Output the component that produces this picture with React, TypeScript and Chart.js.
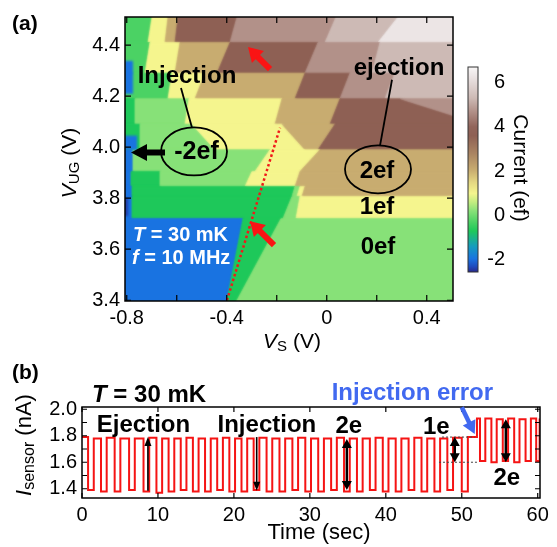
import React, { useEffect, useRef } from 'react';
import { Chart, registerables } from 'chart.js';
Chart.register(...registerables);

const FONT = '"Liberation Sans", Arial, Helvetica, sans-serif';
const font = (size: number, bold = false, italic = false) =>
  `${italic ? 'italic ' : ''}${bold ? 'bold ' : ''}${size}px ${FONT}`;

// ================= Panel (a) data =================
const aXTicks = [-0.8, -0.4, 0, 0.4];
const aXTickLabels = ['-0.8', '-0.4', '0', '0.4'];
const aXTickMarks = [-0.8, -0.6, -0.4, -0.2, 0, 0.2, 0.4];
const aYTicks = [3.4, 3.6, 3.8, 4.0, 4.2, 4.4];
const aYTickLabels = ['3.4', '3.6', '3.8', '4.0', '4.2', '4.4'];
const cbTicks = [-2, 0, 2, 4, 6];
const cbTickLabels = ['-2', '0', '2', '4', '6'];

// Current plateaus (ef): horizontal V_UG bands (top -> bottom); in each band the
// current level changes at slanted V_S boundaries (value at band top / band bottom).
const bandEdges = [4.51, 4.41, 4.29, 4.19, 4.09, 3.99, 3.905, 3.846, 3.807, 3.72, 3.4];
const bandLevels = [
  [-0.3, 1.0, 2.05, 3.6, 4.7, 5.3, 6.3],
  [-0.3, 1.0, 2.05, 3.6, 4.7, 5.3],
  [-0.3, 1.0, 2.05, 3.6, 4.7, 5.3],
  [-0.7, 0.2, 1.0, 2.05, 3.6, 4.7],
  [-0.7, 0.2, 1.0, 2.05, 3.6],
  [-1.95, 0.2, 1.0, 2.05],
  [-1.95, -0.7, 0.2, 1.0, 2.05],
  [-1.95, -0.7, 0.2, 1.0, 2.05],
  [-1.95, -0.7, 0.2, 1.0],
  [-1.95, -0.7, 0.2],
];
const bandBreaksTop = [
  [-0.699, -0.635, -0.595, -0.359, 0.037, 0.285],
  [-0.707, -0.587, -0.387, -0.035, 0.213],
  [-0.619, -0.487, -0.087, 0.093, 0.273],
  [-0.767, -0.551, -0.179, 0.053, 0.293],
  [-0.747, -0.539, -0.179, 0.033],
  [-0.775, -0.227, -0.027],
  [-0.783, -0.667, -0.299, -0.107],
  [-0.779, -0.127, -0.107, -0.087],
  [-0.779, -0.139, -0.107],
  [-0.335, -0.183],
];
const bandBreaksBottom = [
  [-0.715, -0.647, -0.607, -0.387, -0.007, 0.205],
  [-0.727, -0.607, -0.439, -0.087, 0.181],
  [-0.635, -0.527, -0.127, 0.053, 0.233],
  [-0.767, -0.567, -0.207, 0.013, 0.613],
  [-0.747, -0.447, -0.087, -0.035],
  [-0.775, -0.287, -0.107],
  [-0.783, -0.667, -0.327, -0.127],
  [-0.779, -0.139, -0.119, -0.099],
  [-0.779, -0.175, -0.123],
  [-0.399, -0.359],
];
// small extra patches near the left edge
const patchVsMin = [-0.81, -0.81, -0.81];
const patchVsMax = [-0.775, -0.759, -0.795];
const patchVugMin = [4.209, 3.99, 3.73];
const patchVugMax = [4.338, 4.045, 3.8];
const patchLevels = [-1.95, -1.95, -2.4];

// red dotted guide line
const guideVs = [-0.399, -0.187];
const guideVug = [3.4, 4.076];

// colour map (value, rgb)
const colorStops: [number, number[]][] = [
  [-2.55, [40, 40, 140]],
  [-2.3, [30, 75, 190]],
  [-1.95, [25, 115, 225]],
  [-1.4, [20, 155, 190]],
  [-0.7, [30, 200, 90]],
  [-0.3, [75, 210, 100]],
  [0.2, [135, 225, 120]],
  [0.6, [195, 237, 128]],
  [1.0, [245, 245, 142]],
  [1.5, [228, 215, 130]],
  [2.05, [200, 172, 112]],
  [2.8, [170, 132, 98]],
  [3.6, [142, 96, 84]],
  [4.0, [145, 100, 90]],
  [4.7, [178, 145, 137]],
  [5.3, [205, 186, 181]],
  [6.3, [236, 229, 229]],
  [6.7, [248, 246, 246]],
];

// ================= Panel (b) data =================
const bXTicks = [0, 10, 20, 30, 40, 50, 60];
const bXTickLabels = ['0', '10', '20', '30', '40', '50', '60'];
const bYTicks = [1.4, 1.6, 1.8, 2.0];
const bYTickLabels = ['1.4', '1.6', '1.8', '2.0'];
const bYTickMarks = [1.4, 1.5, 1.6, 1.7, 1.8, 1.9, 2.0];

const startTime = 0;
const startLevel = 1.79;
const dipStart = [0.8, 2.5, 4.3, 6.2, 8.1, 9.8, 11.4, 13.0, 14.6, 16.2, 17.8, 19.4, 21.0, 22.6, 24.3, 26.0, 27.7, 29.4, 31.1, 32.8, 34.5, 36.2, 37.9, 39.6, 41.3, 43.0, 44.7, 46.4, 48.1, 50.0, 52.4, 53.9, 55.4, 56.9, 58.4, 59.8];
const dipEnd = [1.55, 3.25, 5.05, 6.95, 8.85, 10.55, 12.15, 13.75, 15.35, 16.95, 18.55, 20.15, 21.75, 23.35, 25.05, 26.75, 28.45, 30.15, 31.85, 33.55, 35.25, 36.95, 38.65, 40.35, 42.05, 43.75, 45.45, 47.15, 48.85, 50.8, 53.1, 54.6, 56.1, 57.6, 59.1, 60.25];
const dipLow = [1.39, 1.38, 1.38, 1.39, 1.38, 1.37, 1.38, 1.39, 1.38, 1.38, 1.39, 1.38, 1.38, 1.39, 1.38, 1.38, 1.39, 1.38, 1.38, 1.39, 1.38, 1.38, 1.39, 1.38, 1.38, 1.39, 1.38, 1.38, 1.39, 1.38, 1.61, 1.6, 1.61, 1.6, 1.61, 1.61];
const highAfter = [1.78, 1.785, 1.78, 1.78, 1.785, 1.78, 1.78, 1.785, 1.78, 1.78, 1.785, 1.78, 1.78, 1.785, 1.78, 1.78, 1.785, 1.78, 1.78, 1.785, 1.78, 1.78, 1.785, 1.78, 1.78, 1.785, 1.78, 1.78, 1.785, 1.79, 1.93, 1.925, 1.93, 1.925, 1.93, 1.93];
const errorTime = 52.0;
const errorLevel = 1.93;

// ================= helpers =================
function colorFor(v: number): string {
  const s = colorStops;
  const toStr = (c: number[]) => `rgb(${c[0]},${c[1]},${c[2]})`;
  if (v <= s[0][0]) return toStr(s[0][1]);
  for (let i = 1; i < s.length; i++) {
    if (v <= s[i][0]) {
      const t = (v - s[i - 1][0]) / (s[i][0] - s[i - 1][0]);
      return toStr(s[i - 1][1].map((c0, k) => Math.round(c0 + (s[i][1][k] - c0) * t)));
    }
  }
  return toStr(s[s.length - 1][1]);
}

type Run = { t: string; font: string; dy?: number };
function drawRuns(ctx: CanvasRenderingContext2D, runs: Run[], x: number, y: number, opts: { align?: string; angle?: number; color?: string } = {}) {
  ctx.save();
  ctx.translate(x, y);
  if (opts.angle) ctx.rotate(opts.angle);
  ctx.textBaseline = 'middle';
  ctx.textAlign = 'left';
  ctx.fillStyle = opts.color || '#000';
  let w = 0;
  for (const r of runs) { ctx.font = r.font; w += ctx.measureText(r.t).width; }
  let cx = opts.align === 'left' ? 0 : -w / 2;
  for (const r of runs) {
    ctx.font = r.font;
    ctx.fillText(r.t, cx, r.dy || 0);
    cx += ctx.measureText(r.t).width;
  }
  ctx.restore();
}

function arrow(ctx: CanvasRenderingContext2D, x1: number, y1: number, x2: number, y2: number, o: { color: string; width: number; headLen: number; headW: number; both?: boolean }) {
  const a = Math.atan2(y2 - y1, x2 - x1);
  const ux = Math.cos(a), uy = Math.sin(a);
  ctx.save();
  ctx.strokeStyle = o.color; ctx.fillStyle = o.color; ctx.lineWidth = o.width; ctx.lineCap = 'butt';
  ctx.setLineDash([]);
  const sx = o.both ? x1 + ux * o.headLen * 0.8 : x1;
  const sy = o.both ? y1 + uy * o.headLen * 0.8 : y1;
  ctx.beginPath();
  ctx.moveTo(sx, sy);
  ctx.lineTo(x2 - ux * o.headLen * 0.8, y2 - uy * o.headLen * 0.8);
  ctx.stroke();
  const head = (tx: number, ty: number, dx: number, dy: number) => {
    ctx.beginPath();
    ctx.moveTo(tx, ty);
    ctx.lineTo(tx - dx * o.headLen - dy * o.headW / 2, ty - dy * o.headLen + dx * o.headW / 2);
    ctx.lineTo(tx - dx * o.headLen + dy * o.headW / 2, ty - dy * o.headLen - dx * o.headW / 2);
    ctx.closePath();
    ctx.fill();
  };
  head(x2, y2, ux, uy);
  if (o.both) head(x1, y1, -ux, -uy);
  ctx.restore();
}

const noGrid = { display: false, drawTicks: false };
const tickFont = { family: FONT, size: 20 };

// ================= Panel (a) =================
function makeA(canvas: HTMLCanvasElement) {
  const plugin = {
    id: 'panelA',
    beforeDatasetsDraw(chart: any) {
      const { ctx, chartArea: a, scales } = chart;
      const xs = scales.x, ys = scales.y;
      const X = (v: number) => xs.getPixelForValue(v), Y = (v: number) => ys.getPixelForValue(v);
      const padX = 0.06, padY = 0.04;
      const polys: { pts: number[][]; c: string }[] = [];
      const nb = bandLevels.length;
      for (let i = 0; i < nb; i++) {
        const yt = bandEdges[i], yb = bandEdges[i + 1];
        const ytd = i === 0 ? yt + padY : yt;
        const ybd = i === nb - 1 ? yb - padY : yb;
        const lev = bandLevels[i], bt = bandBreaksTop[i], bb = bandBreaksBottom[i];
        const at = (xt: number, xb: number, yy: number) => xt + (xb - xt) * (yt - yy) / (yt - yb);
        for (let j = 0; j < lev.length; j++) {
          const last = j === lev.length - 1;
          const lt = j === 0 ? xs.min - padX : bt[j - 1];
          const lb = j === 0 ? xs.min - padX : bb[j - 1];
          const rt = last ? xs.max + padX : bt[j];
          const rb = last ? xs.max + padX : bb[j];
          polys.push({ pts: [[at(lt, lb, ytd), ytd], [at(rt, rb, ytd), ytd], [at(rt, rb, ybd), ybd], [at(lt, lb, ybd), ybd]], c: colorFor(lev[j]) });
        }
      }
      for (let k = 0; k < patchLevels.length; k++) {
        polys.push({ pts: [[patchVsMin[k], patchVugMax[k]], [patchVsMax[k], patchVugMax[k]], [patchVsMax[k], patchVugMin[k]], [patchVsMin[k], patchVugMin[k]]], c: colorFor(patchLevels[k]) });
      }
      ctx.save();
      ctx.beginPath(); ctx.rect(a.left, a.top, a.right - a.left, a.bottom - a.top); ctx.clip();
      for (const pass of [0, 1]) {
        ctx.filter = pass ? 'blur(1.2px)' : 'none';
        for (const p of polys) {
          ctx.beginPath();
          p.pts.forEach(([u, v], k) => (k ? ctx.lineTo(X(u), Y(v)) : ctx.moveTo(X(u), Y(v))));
          ctx.closePath();
          ctx.fillStyle = p.c; ctx.fill();
          if (!pass) { ctx.strokeStyle = p.c; ctx.lineWidth = 1; ctx.stroke(); }
        }
      }
      ctx.restore();
    },
    afterDatasetsDraw(chart: any) {
      const { ctx, chartArea: a, scales } = chart;
      const xs = scales.x, ys = scales.y;
      const X = (v: number) => xs.getPixelForValue(v), Y = (v: number) => ys.getPixelForValue(v);
      ctx.save();
      ctx.strokeStyle = '#000';
      ctx.lineWidth = 1.5;
      ctx.strokeRect(a.left, a.top, a.right - a.left, a.bottom - a.top);
      ctx.lineWidth = 1.2;
      ctx.beginPath();
      for (const v of aXTickMarks) { const p = X(v); ctx.moveTo(p, a.bottom); ctx.lineTo(p, a.bottom - 6); ctx.moveTo(p, a.top); ctx.lineTo(p, a.top + 6); }
      for (const v of aYTicks) { const p = Y(v); ctx.moveTo(a.left, p); ctx.lineTo(a.left + 6, p); ctx.moveTo(a.right, p); ctx.lineTo(a.right - 6, p); }
      ctx.stroke();

      // annotations
      ctx.lineWidth = 1.8;
      drawRuns(ctx, [{ t: 'Injection', font: font(24, true) }], X(-0.559), Y(4.279));
      ctx.beginPath(); ctx.moveTo(X(-0.583), Y(4.232)); ctx.lineTo(X(-0.539), Y(4.076)); ctx.stroke();
      ctx.beginPath(); ctx.ellipse(X(-0.531), Y(3.983), 33, 24, 0, 0, Math.PI * 2); ctx.stroke();
      drawRuns(ctx, [{ t: '-2ef', font: font(25, true) }], X(-0.521), Y(3.979));
      arrow(ctx, X(-0.647), Y(3.979), X(-0.783), Y(3.979), { color: '#000', width: 6, headLen: 16, headW: 17 });

      drawRuns(ctx, [{ t: 'ejection', font: font(24, true) }], X(0.289), Y(4.31));
      ctx.beginPath(); ctx.moveTo(X(0.261), Y(4.264)); ctx.lineTo(X(0.213), Y(4.006)); ctx.stroke();
      ctx.beginPath(); ctx.ellipse(X(0.205), Y(3.913), 33, 24, 0, 0, Math.PI * 2); ctx.stroke();
      drawRuns(ctx, [{ t: '2ef', font: font(24, true) }], X(0.201), Y(3.905));
      drawRuns(ctx, [{ t: '1ef', font: font(24, true) }], X(0.201), Y(3.765));
      drawRuns(ctx, [{ t: '0ef', font: font(24, true) }], X(0.205), Y(3.609));

      drawRuns(ctx, [{ t: 'T', font: font(20, true, true) }, { t: ' = 30 mK', font: font(20, true) }], X(-0.775), Y(3.655), { align: 'left', color: '#fff' });
      drawRuns(ctx, [{ t: 'f', font: font(20, true, true) }, { t: ' = 10 MHz', font: font(20, true) }], X(-0.779), Y(3.562), { align: 'left', color: '#fff' });

      arrow(ctx, X(-0.227), Y(4.306), X(-0.315), Y(4.392), { color: 'rgb(250,20,20)', width: 6, headLen: 14, headW: 17 });
      arrow(ctx, X(-0.211), Y(3.616), X(-0.307), Y(3.71), { color: 'rgb(250,20,20)', width: 6, headLen: 14, headW: 17 });

      // titles
      drawRuns(ctx, [{ t: 'V', font: font(21, false, true) }, { t: 'UG', font: font(15), dy: 5 }, { t: ' (V)', font: font(21) }], 70, 163, { angle: -Math.PI / 2 });
      drawRuns(ctx, [{ t: 'V', font: font(21, false, true) }, { t: 'S', font: font(15), dy: 5 }, { t: ' (V)', font: font(21) }], 292, 342);
      drawRuns(ctx, [{ t: '(a)', font: font(21, true) }], 12, 24, { align: 'left' });
      ctx.restore();
    },
  };

  return new Chart(canvas, {
    type: 'scatter',
    data: {
      datasets: [{
        data: guideVs.map((v, i) => ({ x: v, y: guideVug[i] })),
        showLine: true, borderColor: 'rgb(240,25,25)', borderWidth: 2.5, borderDash: [2.5, 2.5],
        pointRadius: 0, fill: false,
      }],
    },
    options: {
      responsive: false, animation: false, devicePixelRatio: 1,
      layout: { padding: { left: 0, top: 17, right: 7, bottom: 0 } },
      plugins: { legend: { display: false }, tooltip: { enabled: false } },
      scales: {
        x: {
          type: 'linear', min: -0.807, max: 0.505, grid: noGrid, border: { display: false },
          afterBuildTicks: (s: any) => { s.ticks = aXTicks.map((v) => ({ value: v })); },
          afterFit: (s: any) => { s.height = 54; },
          ticks: { font: tickFont, color: '#000', padding: 5, maxRotation: 0, autoSkip: false, callback: (_v: any, i: number) => aXTickLabels[i] },
        },
        y: {
          type: 'linear', min: 3.397, max: 4.51, grid: noGrid, border: { display: false },
          afterBuildTicks: (s: any) => { s.ticks = aYTicks.map((v) => ({ value: v })); },
          afterFit: (s: any) => { s.width = 125; },
          ticks: { font: tickFont, color: '#000', padding: 5, autoSkip: false, callback: (_v: any, i: number) => aYTickLabels[i] },
        },
      },
    } as any,
    plugins: [plugin],
  });
}

// ================= colour bar =================
function makeColorbar(canvas: HTMLCanvasElement) {
  const plugin = {
    id: 'colorbar',
    beforeDatasetsDraw(chart: any) {
      const { ctx, chartArea: a, scales } = chart;
      const ys = scales.y;
      const g = ctx.createLinearGradient(0, a.bottom, 0, a.top);
      const h = a.bottom - a.top;
      for (const [v] of colorStops) {
        const pos = Math.min(1, Math.max(0, (a.bottom - ys.getPixelForValue(v)) / h));
        g.addColorStop(pos, colorFor(v));
      }
      ctx.save();
      ctx.fillStyle = g;
      ctx.fillRect(a.left, a.top, a.right - a.left, h);
      ctx.strokeStyle = '#333'; ctx.lineWidth = 1;
      ctx.strokeRect(a.left, a.top, a.right - a.left, h);
      ctx.fillStyle = '#000'; ctx.font = font(20); ctx.textAlign = 'right'; ctx.textBaseline = 'middle';
      cbTicks.forEach((v, i) => ctx.fillText(cbTickLabels[i], a.right + 27, ys.getPixelForValue(v)));
      ctx.restore();
      drawRuns(ctx, [{ t: 'Current (ef)', font: font(21) }], 65, 118, { angle: Math.PI / 2 });
    },
  };
  return new Chart(canvas, {
    type: 'scatter',
    data: { datasets: [] },
    options: {
      responsive: false, animation: false, devicePixelRatio: 1,
      layout: { padding: { left: 13, top: 17, right: 0, bottom: 18 } },
      plugins: { legend: { display: false }, tooltip: { enabled: false } },
      scales: {
        x: { display: false, min: 0, max: 1 },
        y: {
          position: 'right', min: -2.55, max: 6.7, grid: noGrid, border: { display: false },
          afterFit: (s: any) => { s.width = 79; },
          ticks: { display: false },
        },
      },
    } as any,
    plugins: [plugin],
  });
}

// ================= Panel (b) =================
function makeB(canvas: HTMLCanvasElement) {
  const pts: { x: number; y: number }[] = [{ x: startTime, y: startLevel }];
  dipStart.forEach((s, i) => { pts.push({ x: s, y: dipLow[i] }); pts.push({ x: dipEnd[i], y: highAfter[i] }); });
  pts.push({ x: errorTime, y: errorLevel });
  pts.sort((p, q) => p.x - q.x);

  const plugin = {
    id: 'panelB',
    afterDatasetsDraw(chart: any) {
      const { ctx, chartArea: a, scales } = chart;
      const xs = scales.x, ys = scales.y;
      const X = (v: number) => xs.getPixelForValue(v), Y = (v: number) => ys.getPixelForValue(v);
      ctx.save();
      ctx.strokeStyle = '#000';
      ctx.lineWidth = 1.5;
      ctx.strokeRect(a.left, a.top, a.right - a.left, a.bottom - a.top);
      ctx.lineWidth = 1.2;
      ctx.beginPath();
      for (const v of bXTicks) { const p = X(v); ctx.moveTo(p, a.bottom); ctx.lineTo(p, a.bottom - 5); ctx.moveTo(p, a.top); ctx.lineTo(p, a.top + 5); }
      for (const v of bYTickMarks) { const p = Y(v); ctx.moveTo(a.left, p); ctx.lineTo(a.left + 5, p); ctx.moveTo(a.right, p); ctx.lineTo(a.right - 5, p); }
      ctx.stroke();

      // dotted reference lines for 1e
      ctx.setLineDash([2, 2]); ctx.lineWidth = 1; ctx.strokeStyle = '#444';
      ctx.beginPath();
      ctx.moveTo(X(47.4), Y(1.79)); ctx.lineTo(X(51.7), Y(1.79));
      ctx.moveTo(X(47.0), Y(1.6)); ctx.lineTo(X(52.0), Y(1.6));
      ctx.stroke();
      ctx.setLineDash([]);

      const thin = { color: '#000', width: 1.6, headLen: 9, headW: 7 };
      const thick = { color: '#000', width: 2.5, headLen: 9, headW: 10, both: true };
      arrow(ctx, X(8.68), Y(1.385), X(8.68), Y(1.79), thin);
      arrow(ctx, X(23.0), Y(1.79), X(23.0), Y(1.385), thin);
      arrow(ctx, X(34.87), Y(1.39), X(34.87), Y(1.775), thick);
      arrow(ctx, X(49.08), Y(1.6), X(49.08), Y(1.79), thick);
      arrow(ctx, X(55.8), Y(1.6), X(55.8), Y(1.925), thick);
      arrow(ctx, X(50.0), Y(2.015), X(51.71), Y(1.8125), { color: 'rgb(65,105,240)', width: 4.5, headLen: 13, headW: 14 });

      drawRuns(ctx, [{ t: 'Ejection', font: font(24, true) }], X(8.09), Y(1.88));
      drawRuns(ctx, [{ t: 'Injection', font: font(24, true) }], X(24.34), Y(1.88));
      drawRuns(ctx, [{ t: '2e', font: font(24, true) }], X(35.13), Y(1.872));
      drawRuns(ctx, [{ t: '1e', font: font(24, true) }], X(46.64), Y(1.865));
      drawRuns(ctx, [{ t: '2e', font: font(24, true) }], X(55.92), Y(1.475));
      drawRuns(ctx, [{ t: 'Injection error', font: font(24, true) }], X(43.49), Y(2.12), { color: 'rgb(65,105,240)' });
      drawRuns(ctx, [{ t: 'T', font: font(24, true, true) }, { t: ' = 30 mK', font: font(24, true) }], X(1.32), Y(2.105), { align: 'left' });

      drawRuns(ctx, [{ t: '(b)', font: font(21, true) }], 12, 18, { align: 'left' });
      drawRuns(ctx, [{ t: 'Time (sec)', font: font(22) }], 319, 178);
      drawRuns(ctx, [{ t: 'I', font: font(22, false, true) }, { t: 'sensor', font: font(16), dy: 5 }, { t: ' (nA)', font: font(22) }], 25, 90, { angle: -Math.PI / 2 });
      ctx.restore();
    },
  };

  return new Chart(canvas, {
    type: 'scatter',
    data: {
      datasets: [{
        data: pts, showLine: true, stepped: 'before', borderColor: 'rgb(245,20,20)', borderWidth: 2,
        pointRadius: 0, fill: false,
      }],
    },
    options: {
      responsive: false, animation: false, devicePixelRatio: 1,
      layout: { padding: { left: 0, top: 52, right: 17, bottom: 0 } },
      plugins: { legend: { display: false }, tooltip: { enabled: false } },
      scales: {
        x: {
          type: 'linear', min: 0, max: 60.3, grid: noGrid, border: { display: false },
          afterBuildTicks: (s: any) => { s.ticks = bXTicks.map((v) => ({ value: v })); },
          afterFit: (s: any) => { s.height = 49; },
          ticks: { font: tickFont, color: '#000', padding: 5, maxRotation: 0, autoSkip: false, callback: (_v: any, i: number) => bXTickLabels[i] },
        },
        y: {
          type: 'linear', min: 1.33, max: 2.017, grid: noGrid, border: { display: false },
          afterBuildTicks: (s: any) => { s.ticks = bYTicks.map((v) => ({ value: v })); },
          afterFit: (s: any) => { s.width = 82; },
          ticks: { font: tickFont, color: '#000', padding: 5, autoSkip: false, callback: (_v: any, i: number) => bYTickLabels[i] },
        },
      },
    } as any,
    plugins: [plugin],
  });
}

export default function App() {
  const aRef = useRef<HTMLCanvasElement>(null);
  const cbRef = useRef<HTMLCanvasElement>(null);
  const bRef = useRef<HTMLCanvasElement>(null);
  useEffect(() => {
    const charts = [makeA(aRef.current!), makeColorbar(cbRef.current!), makeB(bRef.current!)];
    return () => charts.forEach((c) => c.destroy());
  }, []);
  return (
    <div style={{ position: 'absolute', left: 0, top: 0, width: 557, height: 547, background: '#fff' }}>
      <canvas ref={aRef} width={460} height={355} style={{ position: 'absolute', left: 0, top: 0 }} />
      <canvas ref={cbRef} width={102} height={240} style={{ position: 'absolute', left: 455, top: 50 }} />
      <canvas ref={bRef} width={557} height={192} style={{ position: 'absolute', left: 0, top: 355 }} />
    </div>
  );
}
